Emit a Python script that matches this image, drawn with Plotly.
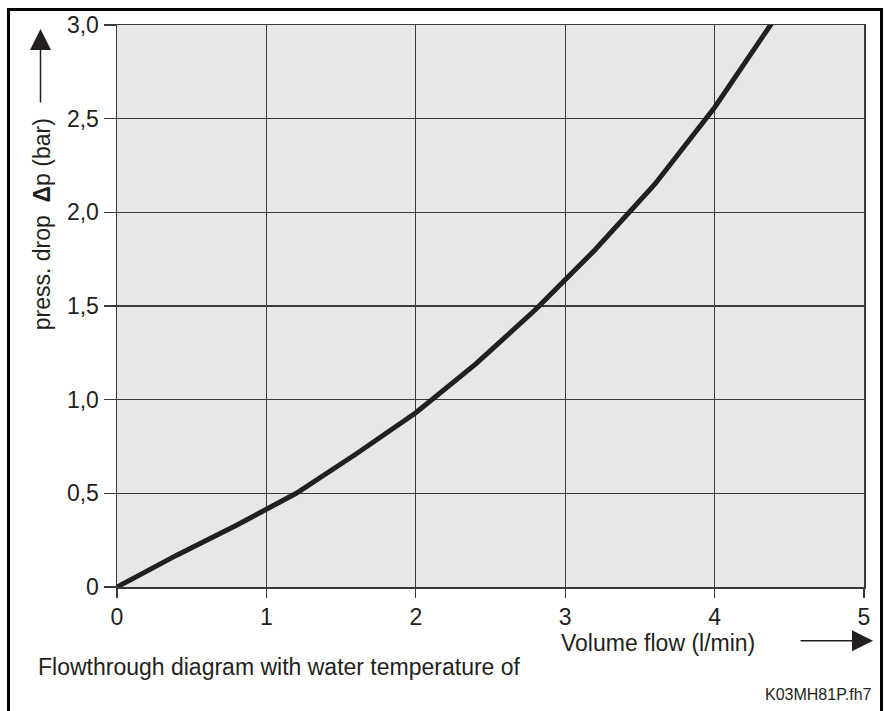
import plotly.graph_objects as go

flow = [0, 0.4, 0.8, 1.2, 1.6, 2.0, 2.4, 2.8, 3.2, 3.6, 4.0, 4.4]
pressure = [0, 0.17, 0.33, 0.5, 0.71, 0.93, 1.19, 1.48, 1.80, 2.15, 2.56, 3.03]

x_ticks = [0, 1, 2, 3, 4, 5]
y_ticks = [0, 0.5, 1.0, 1.5, 2.0, 2.5, 3.0]
y_labels = ["0", "0,5", "1,0", "1,5", "2,0", "2,5", "3,0"]

W, H = 885, 711
L, R, T, B = 117, 21, 23, 124
PW, PH = W - L - R, H - T - B


def px(x):
    return (x - L) / PW


def py(y):
    return (H - B - y) / PH


FONT = "Liberation Sans, Arial, sans-serif"
GRID = "#3a3a3a"
INK = "#231f20"
FS = 23

fig = go.Figure()
fig.add_trace(go.Scatter(x=flow, y=pressure, mode="lines",
                         line=dict(color=INK, width=5),
                         showlegend=False, hoverinfo="skip"))

fig.update_layout(
    width=W, height=H,
    margin=dict(l=L, r=R, t=T, b=B),
    paper_bgcolor="white",
    plot_bgcolor="#e6e7e8",
    font=dict(family=FONT, size=FS, color=INK),
    xaxis=dict(range=[0, 5], tickvals=x_ticks, ticks="outside", ticklen=9,
               tickcolor=GRID, tickwidth=1.2, showgrid=True, gridcolor=GRID,
               gridwidth=1.2, zeroline=False, showline=True, linecolor=GRID,
               linewidth=1.5, mirror=True, fixedrange=True,
               tickfont=dict(size=FS)),
    yaxis=dict(range=[0, 3], tickvals=y_ticks, ticktext=y_labels,
               ticks="outside", ticklen=12, tickcolor=GRID, tickwidth=1.2,
               showgrid=True, gridcolor=GRID, gridwidth=1.2, zeroline=False,
               showline=True, linecolor=GRID, linewidth=1.5, mirror=True,
               fixedrange=True, tickfont=dict(size=FS)),
)

# Outer frame
fig.add_shape(type="rect", xref="paper", yref="paper",
              x0=px(8.5), x1=px(881.5), y0=py(720), y1=py(7.5),
              line=dict(color="black", width=3), layer="above")

annos = [
    dict(text="Volume flow (l/min)", x=px(658), y=py(643), xanchor="center",
         yanchor="middle", font=dict(size=FS)),
    dict(text="Flowthrough diagram with water temperature of", x=px(36),
         y=py(667), xanchor="left", yanchor="middle", font=dict(size=FS)),
    dict(text="K03MH81P.fh7", x=px(874), y=py(695), xanchor="right",
         yanchor="middle", font=dict(size=16)),
    dict(text="press. drop  <b>Δ</b>p (bar)", x=px(42), y=py(223),
         xanchor="center", yanchor="middle", textangle=-90,
         font=dict(size=FS)),
]
for a in annos:
    fig.add_annotation(xref="paper", yref="paper", showarrow=False, **a)

# Arrows
fig.add_annotation(xref="paper", yref="paper", axref="pixel", ayref="pixel",
                   x=px(40.5), y=py(27), ax=0, ay=75, text="",
                   showarrow=True, arrowhead=2, arrowsize=2.8,
                   arrowwidth=1.5, arrowcolor=INK)
fig.add_annotation(xref="paper", yref="paper", axref="pixel", ayref="pixel",
                   x=px(873), y=py(641), ax=-74, ay=0, text="",
                   showarrow=True, arrowhead=2, arrowsize=2.8,
                   arrowwidth=1.5, arrowcolor=INK)

fig.write_html("out.html", config={"displayModeBar": False, "staticPlot": True})

# remove the default page margin so the figure fills the window exactly
with open("out.html", "r", encoding="utf-8") as f:
    html = f.read()
html = html.replace("<head>", "<head><style>html,body{margin:0;padding:0;overflow:hidden;}</style>", 1)
with open("out.html", "w", encoding="utf-8") as f:
    f.write(html)
